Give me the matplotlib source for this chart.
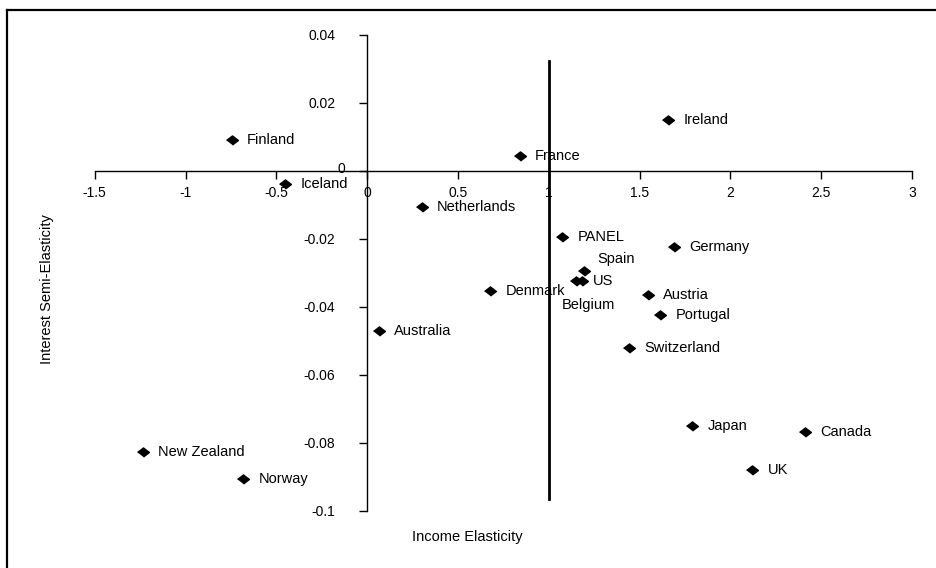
import matplotlib
matplotlib.use("Agg")
import matplotlib.pyplot as plt
from matplotlib.lines import Line2D
from matplotlib.transforms import ScaledTranslation

plt.rcParams['font.family'] = ['Liberation Sans', 'DejaVu Sans']

# countries: (income elasticity, interest semi-elasticity)
names = ['Finland', 'Iceland', 'Netherlands', 'France', 'Ireland', 'PANEL',
         'Germany', 'Spain', 'US', 'Belgium', 'Denmark', 'Austria', 'Portugal',
         'Switzerland', 'Australia', 'Japan', 'Canada', 'UK', 'New Zealand', 'Norway']
income_el = [-0.745, -0.452, 0.30, 0.839, 1.659, 1.073,
             1.687, 1.196, 1.181, 1.148, 0.678, 1.546, 1.614,
             1.441, 0.064, 1.791, 2.41, 2.121, -1.236, -0.681]
interest_el = [0.009, -0.0039, -0.0106, 0.0043, 0.015, -0.0195,
               -0.0224, -0.0295, -0.0325, -0.0325, -0.0354, -0.0365, -0.0424,
               -0.052, -0.0472, -0.075, -0.0769, -0.0879, -0.0827, -0.0908]

x_ticks = [-1.5, -1, -0.5, 0, 0.5, 1, 1.5, 2, 2.5, 3]
x_ticklabels = ['-1.5', '-1', '-0.5', '0', '0.5', '1', '1.5', '2', '2.5', '3']
y_ticks = [-0.1, -0.08, -0.06, -0.04, -0.02, 0, 0.02, 0.04]
y_ticklabels = ['-0.1', '-0.08', '-0.06', '-0.04', '-0.02', '0', '0.02', '0.04']

# unit income elasticity reference line
ref_x = 1.0
ref_y = (0.0324, -0.0967)

# labels that are not simply to the right of the marker (offset in points)
label_offsets = {'Spain': (9, 8.5), 'US': (8, 0), 'Belgium': (-10, -17)}

fig = plt.figure(figsize=(9.36, 5.68), dpi=100)
ax = fig.add_axes([0.1012, 0.1009, 0.8732, 0.8375])

diamond = [(-1, 0), (0, 0.77), (1, 0), (0, -0.77)]
ax.plot(income_el, interest_el, linestyle='none', marker=diamond,
        markersize=8.5, color='black', clip_on=False, zorder=3)

for name, xv, yv in zip(names, income_el, interest_el):
    off = label_offsets.get(name, (11, 0))
    ax.annotate(name, (xv, yv), xytext=off, textcoords='offset points',
                ha='left', va='center', fontsize=10.5, annotation_clip=False)

ax.plot([ref_x, ref_x], list(ref_y), color='black', lw=2, zorder=2)

ax.set_xlim(-1.5, 3)
ax.set_ylim(-0.1, 0.04)
ax.spines['left'].set_position(('data', 0))
ax.spines['bottom'].set_position(('data', 0))
ax.spines['top'].set_visible(False)
ax.spines['right'].set_visible(False)
for s in ('left', 'bottom'):
    ax.spines[s].set_linewidth(1.0)

ax.set_xticks(x_ticks)
ax.set_xticklabels(x_ticklabels)
ax.set_yticks(y_ticks)
ax.set_yticklabels(y_ticklabels)
ax.tick_params(axis='x', direction='out', length=6, width=1, pad=5, labelsize=10)
ax.tick_params(axis='y', direction='out', length=6, width=1, pad=17, labelsize=10)

# the "0" on the y axis sits a bit higher and closer to the axis, as in the original
zero_lab = ax.get_yticklabels()[y_ticks.index(0)]
zero_lab.set_transform(zero_lab.get_transform()
                       + ScaledTranslation(0.10, 0.03, fig.dpi_scale_trans))

fig.text(467 / 936, 1 - 537 / 568, 'Income Elasticity', ha='center', va='center', fontsize=10.5)
fig.text(47.5 / 936, 1 - 289 / 568, 'Interest Semi-Elasticity', ha='center', va='center',
         rotation=90, fontsize=10.5)

# chart frame (only top and left edges visible in the crop)
fig.add_artist(Line2D([7.3 / 936, 1], [1 - 10 / 568, 1 - 10 / 568], color='black', lw=1.6))
fig.add_artist(Line2D([7.3 / 936, 7.3 / 936], [0, 1 - 10 / 568], color='black', lw=1.6))

fig.savefig('out.png', dpi=100)
